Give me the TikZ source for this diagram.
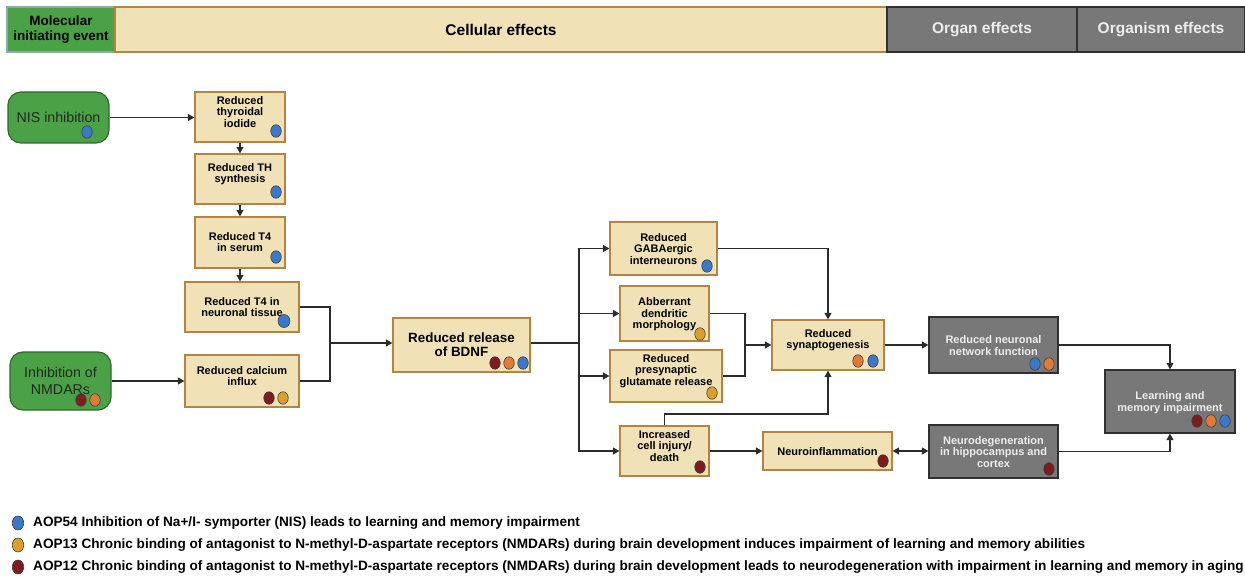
\documentclass[tikz,border=0pt]{standalone}
\usepackage{fontspec}
\setmainfont{Liberation Sans}
\usetikzlibrary{arrows.meta,shapes.geometric}
\definecolor{grnf}{HTML}{4AA146}
\definecolor{grnb}{HTML}{2F6A2C}
\definecolor{hgrnb}{HTML}{8FA6B4}
\definecolor{tanf}{HTML}{F1E1B6}
\definecolor{tanb}{HTML}{B5843E}
\definecolor{gryf}{HTML}{787878}
\definecolor{gryb}{HTML}{303030}
\definecolor{grtx}{HTML}{1E2A1E}
\definecolor{cblue}{HTML}{3B78C9}
\definecolor{corange}{HTML}{E07A36}
\definecolor{cgold}{HTML}{D9A127}
\definecolor{cred}{HTML}{7C1C1E}
\definecolor{arr}{HTML}{2B2B2B}
\definecolor{lgtx}{HTML}{EDEDED}
\begin{document}
\begin{tikzpicture}[x=1pt,y=-1pt,
  tanbox/.style={draw=tanb, fill=tanf, line width=1.2pt, inner sep=0pt},
  grnbox/.style={draw=grnb, fill=grnf, line width=1.2pt, rounded corners=13pt, align=center,
    inner sep=0pt, text=grtx, font=\fontsize{14.2}{16.5}\selectfont},
  grybox/.style={draw=gryb, fill=gryf, line width=1.2pt, inner sep=0pt},
  ttxt/.style={align=center, inner sep=0pt, font=\bfseries\fontsize{11}{11.6}\selectfont},
  gtxt/.style={ttxt, text=lgtx},
  hdr/.style={line width=1.2pt, align=center, inner sep=0pt, minimum height=45pt,
    font=\bfseries\fontsize{15.5}{17}\selectfont},
  adot/.style={ellipse, draw=black!75, line width=0.6pt, minimum width=10.5pt,
    minimum height=12.5pt, inner sep=0pt},
  ldot/.style={adot, minimum width=11.5pt, minimum height=14pt},
  lnk/.style={draw=arr, line width=1.1pt},
  conn/.style={lnk, -{Triangle[length=6.5pt,width=7pt]}},
  conn2/.style={lnk, {Triangle[length=6.5pt,width=7pt]}-{Triangle[length=6.5pt,width=7pt]}},
  lgd/.style={anchor=west, inner sep=0pt, font=\bfseries\fontsize{13.6}{15}\selectfont}
]
\useasboundingbox (0,0) rectangle (1245,577);

% header
\node[hdr, draw=hgrnb, fill=grnf, minimum width=108pt, font=\bfseries\fontsize{13.5}{14.5}\selectfont] (hmie) at (61,29.5) {Molecular\\initiating event};
\node[hdr, draw=tanb, fill=tanf, minimum width=772pt] (hcell) at (501,29.5) {Cellular effects};
\node[hdr, draw=gryb, fill=gryf, minimum width=190pt, text=lgtx] (horgan) at (982,29.5) {Organ effects};
\node[hdr, draw=gryb, fill=gryf, minimum width=168pt, text=lgtx] (horgm) at (1161,29.5) {Organism effects};

% green MIE nodes
\node[grnbox, minimum width=101pt, minimum height=51pt] (nis) at (58.5,117.5) {NIS inhibition};
\node[grnbox, minimum width=101pt, minimum height=58pt] (nmda) at (60.5,381) {Inhibition of\\NMDARs};

% tan boxes
\node[tanbox, minimum width=90pt, minimum height=50pt] (thy) at (240,117) {};
\node[tanbox, minimum width=90pt, minimum height=50pt] (th) at (240,179) {};
\node[tanbox, minimum width=90pt, minimum height=51pt] (t4s) at (240,242.5) {};
\node[tanbox, minimum width=114pt, minimum height=50pt] (t4n) at (242,307) {};
\node[tanbox, minimum width=114pt, minimum height=52pt] (ca) at (242,381) {};
\node[tanbox, minimum width=137pt, minimum height=54pt] (bdnf) at (461.5,345) {};
\node[tanbox, minimum width=107pt, minimum height=53pt] (gaba) at (663.5,248.5) {};
\node[tanbox, minimum width=89pt, minimum height=55pt] (abb) at (664.5,313.5) {};
\node[tanbox, minimum width=112pt, minimum height=52pt] (pre) at (666,376) {};
\node[tanbox, minimum width=89pt, minimum height=50pt] (cell) at (664.5,451) {};
\node[tanbox, minimum width=112pt, minimum height=50pt] (syn) at (828,345) {};
\node[tanbox, minimum width=129pt, minimum height=38pt] (inf) at (827.5,451) {};

% gray boxes
\node[grybox, minimum width=129pt, minimum height=56pt] (net) at (993.5,345) {};
\node[grybox, minimum width=129pt, minimum height=53pt] (deg) at (993.5,451.5) {};
\node[grybox, minimum width=130pt, minimum height=63pt] (learn) at (1170,401.5) {};

% box texts
\node[ttxt] (thy-t) at (240,112) {Reduced\\thyroidal\\iodide};
\node[ttxt] (th-t) at (240,174) {Reduced TH\\synthesis};
\node[ttxt] (t4s-t) at (240,242) {Reduced T4\\in serum};
\node[ttxt] (t4n-t) at (242,307) {Reduced T4 in\\neuronal tissue};
\node[ttxt] (ca-t) at (242,376) {Reduced calcium\\influx};
\node[ttxt, font=\bfseries\fontsize{13.4}{14}\selectfont] (bdnf-t) at (461.5,345) {Reduced release\\of BDNF};
\node[ttxt] (gaba-t) at (663.5,249) {Reduced\\GABAergic\\interneurons};
\node[ttxt] (abb-t) at (664.5,314.5) {Abberrant\\dendritic\\morphology};
\node[ttxt] (pre-t) at (666,371) {Reduced\\presynaptic\\glutamate release};
\node[ttxt] (cell-t) at (664.5,446) {Increased\\cell injury/\\death};
\node[ttxt] (syn-t) at (828,340) {Reduced\\synaptogenesis};
\node[ttxt] (inf-t) at (827.5,451.5) {Neuroinflammation};
\node[gtxt] (net-t) at (993.5,345.5) {Reduced neuronal\\network function};
\node[gtxt] (deg-t) at (993.5,452) {Neurodegeneration\\in hippocampus and\\cortex};
\node[gtxt] (learn-t) at (1170,402.5) {Learning and\\memory impairment};

% AOP dots
\node[adot, fill=cblue] (nis-d1) at (87,132) {};
\node[adot, fill=cred] (nmda-d1) at (81,400) {};
\node[adot, fill=corange] (nmda-d2) at (95,400) {};
\node[adot, fill=cblue] (thy-d1) at (276,131) {};
\node[adot, fill=cblue] (th-d1) at (276,192) {};
\node[adot, fill=cblue] (t4s-d1) at (276,257) {};
\node[adot, fill=cblue, minimum width=12pt, minimum height=13pt] (t4n-d1) at (284,321) {};
\node[adot, fill=cred] (ca-d1) at (269,398) {};
\node[adot, fill=cgold] (ca-d2) at (283,398) {};
\node[adot, fill=cred] (bdnf-d1) at (495,363) {};
\node[adot, fill=corange] (bdnf-d2) at (509,363) {};
\node[adot, fill=cblue] (bdnf-d3) at (523,363) {};
\node[adot, fill=cblue] (gaba-d1) at (707,266) {};
\node[adot, fill=cgold] (abb-d1) at (700,334) {};
\node[adot, fill=cgold] (pre-d1) at (712,393) {};
\node[adot, fill=cred] (cell-d1) at (700,467) {};
\node[adot, fill=corange] (syn-d1) at (858,361) {};
\node[adot, fill=cblue] (syn-d2) at (873,361) {};
\node[adot, fill=cred] (inf-d1) at (883,461) {};
\node[adot, fill=cblue] (net-d1) at (1035,364) {};
\node[adot, fill=corange] (net-d2) at (1049,364) {};
\node[adot, fill=cred] (deg-d1) at (1049,469) {};
\node[adot, fill=cred] (learn-d1) at (1197,421) {};
\node[adot, fill=corange] (learn-d2) at (1211,421) {};
\node[adot, fill=cblue] (learn-d3) at (1225,421) {};

% junction coordinates
\coordinate (j1) at (330,343);
\coordinate (j2) at (579,343);
\coordinate (j3) at (745,345);
\coordinate (j4) at (664.5,414);

% connectors
\draw[conn] (nis.east) -- (nis.east -| thy.west);
\draw[conn] (nmda.east) -- (nmda.east -| ca.west);
\draw[conn] (thy) -- (th);
\draw[conn] (th) -- (t4s);
\draw[conn] (t4s.south) -- (t4s.south |- t4n.north);
\draw[lnk] (t4n.east) -| (j1);
\draw[lnk] (ca.east) -| (j1);
\draw[conn] (j1) -- (j1 -| bdnf.west);
\draw[lnk] (j2 -| bdnf.east) -- (j2);
\draw[conn] (j2) |- (gaba.west);
\draw[conn] (j2) |- (abb.west);
\draw[conn] (j2) |- (pre.west);
\draw[conn] (j2) |- (cell.west);
\draw[conn] (gaba.east) -| (syn.north);
\draw[lnk] (abb.east) -| (j3);
\draw[lnk] (pre.east) -| (j3);
\draw[conn] (j3) -- (syn.west);
\draw[conn] (cell.north) -- (j4) -| (syn.south);
\draw[conn] (cell.east) -- (inf.west);
\draw[conn2] (inf.east) -- (inf.east -| deg.west);
\draw[conn] (syn.east) -- (net.west);
\draw[conn] (net.east) -| (learn.north);
\draw[conn] (deg.east) -| (learn.south);

% legend
\node[ldot, fill=cblue] (l1d) at (18,523) {};
\node[ldot, fill=cgold] (l2d) at (18,545) {};
\node[ldot, fill=cred] (l3d) at (18,567) {};
\node[lgd] (l1) at (33,523) {AOP54 Inhibition of Na+/I- symporter (NIS) leads to learning and memory impairment};
\node[lgd] (l2) at (33,545) {AOP13 Chronic binding of antagonist to N-methyl-D-aspartate receptors (NMDARs) during brain development induces impairment of learning and memory abilities};
\node[lgd] (l3) at (33,567) {AOP12 Chronic binding of antagonist to N-methyl-D-aspartate receptors (NMDARs) during brain development leads to neurodegeneration with impairment in learning and memory in aging};
\end{tikzpicture}
\end{document}
